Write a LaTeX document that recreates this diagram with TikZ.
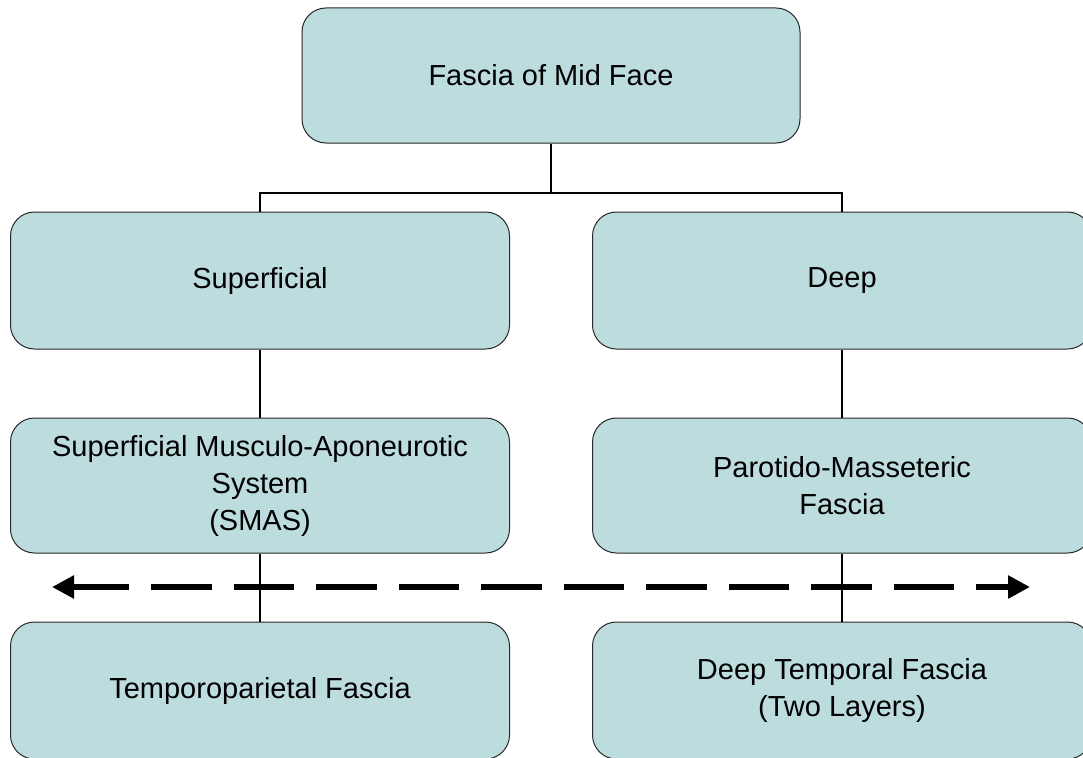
\documentclass[tikz,border=0pt]{standalone}
\usepackage{fontspec}
\setmainfont{Liberation Sans}
\usetikzlibrary{arrows.meta}
\definecolor{boxfill}{RGB}{189,220,222}
\definecolor{boxline}{RGB}{40,40,40}
\tikzset{
  fbox/.style={draw=boxline, line width=1pt, fill=boxfill, rounded corners=24pt,
    minimum width=499pt, minimum height=137pt, inner sep=0pt, align=center,
    font=\fontsize{29pt}{37pt}\selectfont},
  conn/.style={line width=1.6pt, black},
  dasharrow/.style={line width=6pt, black, dash pattern=on 60.5pt off 22pt, dash phase=4pt,
    {Triangle[length=22pt,width=22pt]}-{Triangle[length=22pt,width=22pt]}}
}
\begin{document}
\begin{tikzpicture}[x=1pt,y=-1pt]
\clip (0,0) rectangle (1083,757);
\fill[white] (0,0) rectangle (1083,757);
\node[fbox, minimum width=498pt, minimum height=135pt] (top) at (551,75.5) {Fascia of Mid Face};
\node[fbox] (sup) at (260,280.5) {Superficial};
\node[fbox] (deep) at (842,280.5) {Deep};
\node[fbox, minimum height=135pt] (smas) at (260,485.5) {Superficial Musculo-Aponeurotic\\System\\(SMAS)};
\node[fbox, minimum height=135pt] (paro) at (842,485.5) {Parotido-Masseteric\\Fascia};
\node[fbox] (temp) at (260,690.5) {Temporoparietal Fascia};
\node[fbox] (dtf) at (842,690.5) {Deep Temporal Fascia\\(Two Layers)};
\coordinate (bar) at (551,193);
\draw[conn] (top.south) -- (bar);
\draw[conn] (sup.north) |- (bar) -| (deep.north);
\draw[conn] (sup) -- (smas);
\draw[conn] (smas) -- (temp);
\draw[conn] (deep) -- (paro);
\draw[conn] (paro) -- (dtf);
\coordinate (aL) at (52,587);
\coordinate (aR) at (1030,587);
\draw[dasharrow] (aL) -- (aR);
\end{tikzpicture}
\end{document}
